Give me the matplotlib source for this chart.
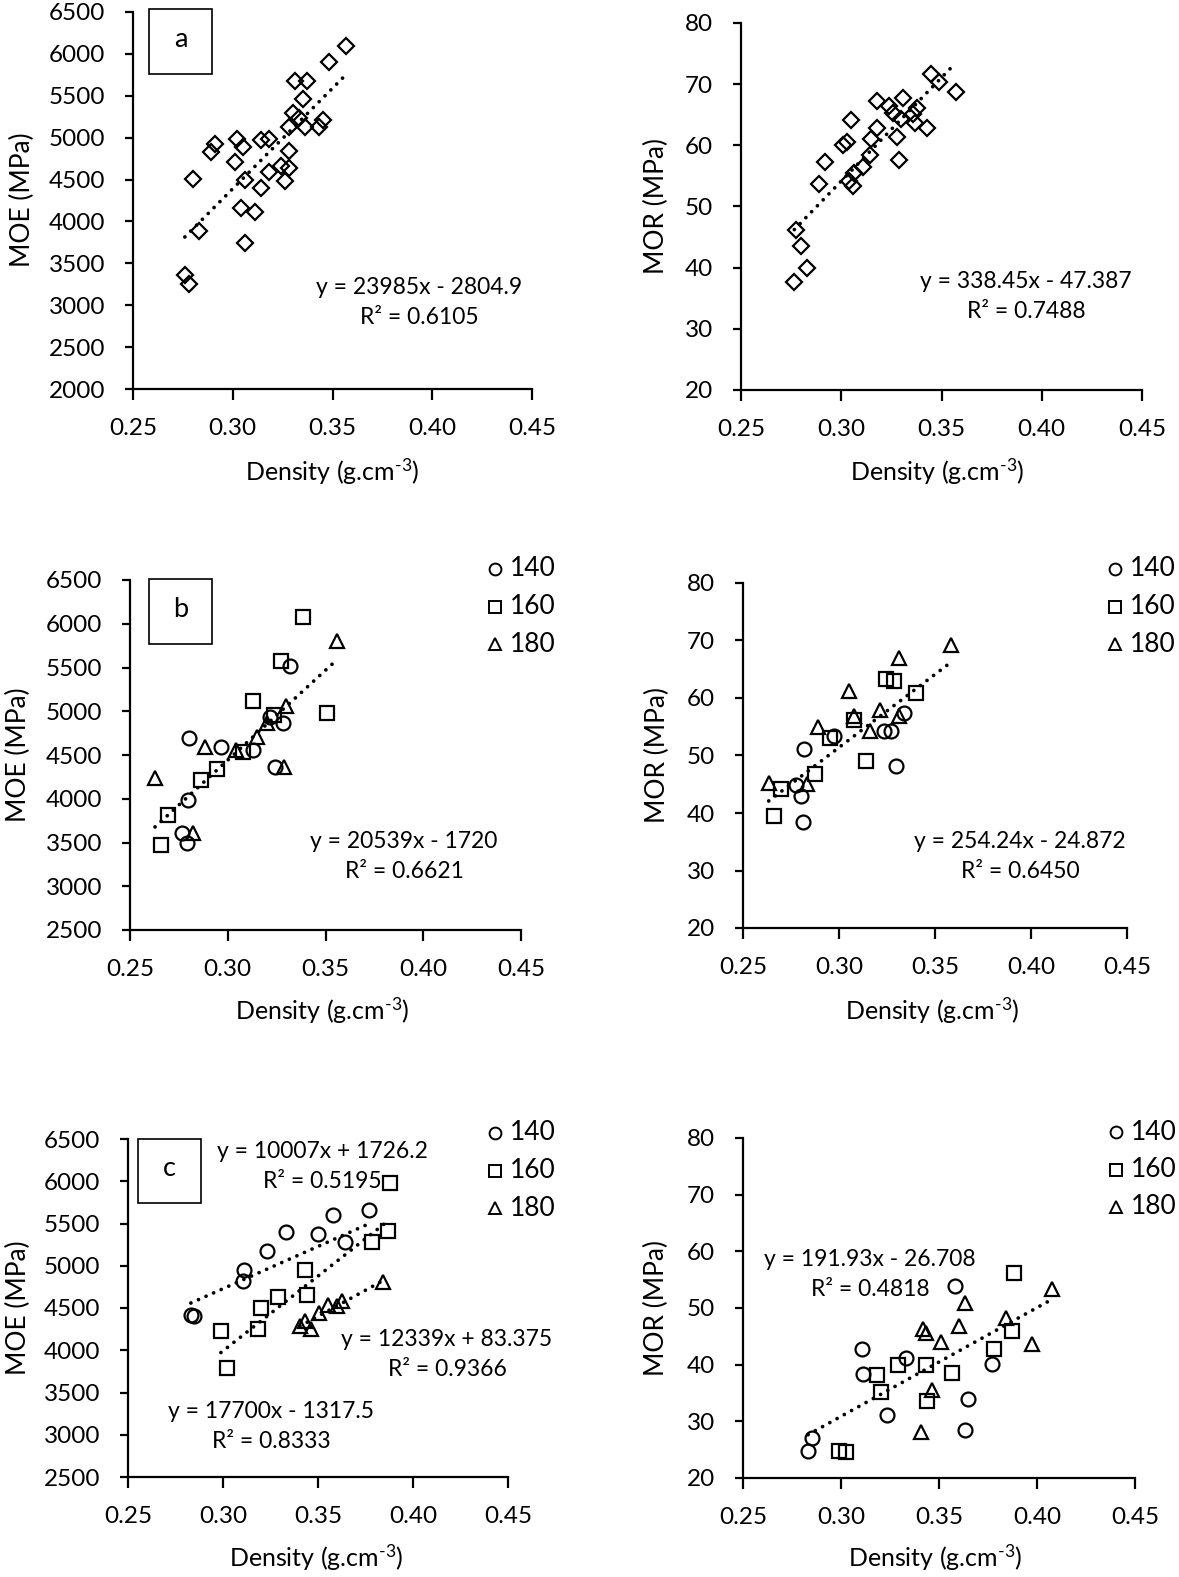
import matplotlib
matplotlib.use("Agg")
import matplotlib.pyplot as plt
from matplotlib.lines import Line2D
from matplotlib.patches import Rectangle
import numpy as np

plt.rcParams['font.family'] = ['Lato', 'DejaVu Sans']
plt.rcParams['mathtext.fontset'] = 'custom'
plt.rcParams['mathtext.rm'] = 'Lato'
plt.rcParams['mathtext.it'] = 'Lato'

# ---------------- DATA ----------------
groups = ['140', '160', '180']

# Panel a (all samples)
a_moe_x = [0.357, 0.348, 0.331, 0.337, 0.335, 0.330, 0.333, 0.328, 0.336, 0.343, 0.345,
           0.291, 0.289, 0.302, 0.305, 0.314, 0.318, 0.328, 0.301, 0.324, 0.328, 0.318,
           0.326, 0.306, 0.280, 0.314, 0.304, 0.311, 0.283, 0.306, 0.276, 0.278]
a_moe_y = [6090, 5905, 5680, 5680, 5465, 5290, 5230, 5130, 5130, 5130, 5210,
           4930, 4825, 4990, 4890, 4970, 4980, 4845, 4705, 4665, 4635, 4595,
           4485, 4490, 4505, 4395, 4155, 4110, 3880, 3740, 3365, 3255]
a_mor_x = [0.345, 0.349, 0.357, 0.318, 0.331, 0.324, 0.338, 0.326, 0.336, 0.330, 0.337,
           0.343, 0.305, 0.318, 0.315, 0.303, 0.301, 0.328, 0.3145, 0.329, 0.292, 0.311,
           0.3065, 0.304, 0.306, 0.289, 0.2776, 0.280, 0.283, 0.2766]
a_mor_y = [71.7, 70.3, 68.8, 67.2, 67.8, 66.4, 66.1, 65.3, 65.2, 64.3, 63.7,
           62.8, 64.1, 62.8, 61.0, 60.6, 60.0, 61.3, 58.5, 57.6, 57.2, 56.4,
           55.5, 54.1, 53.4, 53.6, 46.1, 43.6, 40.0, 37.6]

# Panel b (by group)
b_moe_x = {
    '140': [0.2804, 0.2964, 0.3131, 0.3282, 0.3319, 0.3242, 0.2799, 0.2765, 0.2794, 0.3215],
    '160': [0.3384, 0.3273, 0.3131, 0.3237, 0.3507, 0.3077, 0.2944, 0.2862, 0.2693, 0.2659],
    '180': [0.3561, 0.3299, 0.3203, 0.3148, 0.3043, 0.2884, 0.3288, 0.2628, 0.2824],
}
b_moe_y = {
    '140': [4699, 4596, 4558, 4870, 5518, 4367, 3987, 3613, 3492, 4935],
    '160': [6081, 5575, 5121, 4958, 4984, 4539, 4341, 4215, 3815, 3473],
    '180': [5807, 5061, 4863, 4703, 4558, 4596, 4360, 4234, 3613],
}
b_mor_x = {
    '140': [0.2816, 0.2776, 0.2802, 0.2811, 0.2976, 0.3233, 0.3271, 0.3337, 0.3299],
    '160': [0.3247, 0.3288, 0.3403, 0.3076, 0.2951, 0.3142, 0.2873, 0.2700, 0.2663],
    '180': [0.3583, 0.3314, 0.3050, 0.3076, 0.3215, 0.3311, 0.3163, 0.2889, 0.2833, 0.2634],
}
b_mor_y = {
    '140': [51.1, 44.9, 42.9, 38.4, 53.4, 54.3, 54.3, 57.4, 48.2],
    '160': [63.3, 62.9, 60.9, 56.2, 53.0, 49.0, 46.8, 44.2, 39.4],
    '180': [69.3, 67.0, 61.2, 56.8, 57.9, 56.8, 54.2, 55.0, 45.0, 45.2],
}

# Panel c (by group)
c_moe_x = {
    '140': [0.377, 0.358, 0.3332, 0.3502, 0.3642, 0.323, 0.3111, 0.3104, 0.2831, 0.285],
    '160': [0.3878, 0.387, 0.3782, 0.3432, 0.344, 0.3288, 0.320, 0.3183, 0.2989, 0.302],
    '180': [0.384, 0.3628, 0.3602, 0.3554, 0.3505, 0.3432, 0.3405, 0.3462],
}
c_moe_y = {
    '140': [5664, 5597, 5395, 5376, 5281, 5171, 4954, 4823, 4421, 4409],
    '160': [5979, 5407, 5277, 4954, 4650, 4630, 4500, 4255, 4224, 3790],
    '180': [4804, 4579, 4527, 4531, 4441, 4342, 4283, 4251],
}
c_mor_x = {
    '140': [0.3581, 0.3108, 0.3113, 0.3334, 0.3235, 0.3771, 0.3646, 0.3632, 0.2852, 0.2832],
    '160': [0.3882, 0.387, 0.378, 0.3564, 0.3436, 0.3291, 0.3186, 0.3203, 0.3441, 0.299, 0.3024],
    '180': [0.4078, 0.3632, 0.3841, 0.3603, 0.3416, 0.3436, 0.3508, 0.3976, 0.3465, 0.3407],
}
c_mor_y = {
    '140': [53.8, 42.8, 38.4, 41.1, 31.2, 40.1, 33.9, 28.5, 27.1, 24.7],
    '160': [56.1, 46.0, 42.8, 38.6, 39.9, 40.0, 38.2, 35.1, 33.6, 24.7, 24.6],
    '180': [53.4, 50.9, 48.2, 46.9, 46.3, 45.6, 44.0, 43.6, 35.6, 28.2],
}

# Trendline coefficients (slope, intercept, R2)
fit_a_moe = (23985, -2804.9, 0.6105)
fit_a_mor = (338.45, -47.387, 0.7488)
fit_b_moe = (20539, -1720, 0.6621)
fit_b_mor = (254.24, -24.872, 0.6450)
fit_c_moe = {'140': (10007, 1726.2, 0.5195), '160': (17700, -1317.5, 0.8333),
             '180': (12339, 83.375, 0.9366)}
fit_c_mor = (191.93, -26.708, 0.4818)

moe_ticks_a = [2000, 2500, 3000, 3500, 4000, 4500, 5000, 5500, 6000, 6500]
moe_ticks_bc = [2500, 3000, 3500, 4000, 4500, 5000, 5500, 6000, 6500]
mor_ticks = [20, 30, 40, 50, 60, 70, 80]
x_ticks = [0.25, 0.30, 0.35, 0.40, 0.45]

# ---------------- STYLE ----------------
W, H = 1179, 1577
FS = 17.5      # tick labels
FS_EQ = 16.5   # equations
FS_XL = 18     # x label
FS_YL = 19     # y label
markers = {'140': 'o', '160': 's', '180': '^'}
msizes = {'140': 10, '160': 10, '180': 10.5}

fig = plt.figure(figsize=(W / 100, H / 100), dpi=100)


def fx(x):
    return x / W


def fy(y):
    return 1 - y / H


def add_ax(l, r, t, b):
    return fig.add_axes([fx(l), fy(b), (r - l) / W, (b - t) / H])


def style(ax, yticks):
    ax.set_xlim(0.25, 0.45)
    ax.set_ylim(yticks[0], yticks[-1])
    ax.set_xticks(x_ticks)
    ax.set_xticklabels([f"{t:.2f}" for t in x_ticks])
    ax.set_yticks(yticks)
    ax.set_yticklabels([str(t) for t in yticks])
    for s in ['top', 'right']:
        ax.spines[s].set_visible(False)
    for s in ['left', 'bottom']:
        ax.spines[s].set_linewidth(1.6)
    ax.tick_params(axis='y', direction='out', length=6, width=1.6, pad=14, labelsize=FS)
    ax.tick_params(axis='x', direction='out', length=8, width=1.6, pad=13, labelsize=FS)
    ax.patch.set_alpha(0)


def trend(ax, fit, xs):
    xx = np.array([min(xs), max(xs)])
    ax.plot(xx, fit[0] * xx + fit[1], color='black', lw=2.7,
            linestyle=(0, (0.01, 2.2)), dash_capstyle='round', zorder=5)


def scatter(ax, x, y, g):
    ax.plot(x, y, linestyle='none', marker=markers[g], ms=msizes[g], mfc='none',
            mec='black', mew=1.6, zorder=3)


def eq_text(x, y, fit):
    slope, icpt, r2 = fit
    sign = '-' if icpt < 0 else '+'
    ic_s = f"{abs(icpt):g}"
    fig.text(fx(x), fy(y), f"y = {slope:g}x {sign} {ic_s}", ha='center', va='center', fontsize=FS_EQ)
    fig.text(fx(x), fy(y + 30), f"R² = {r2:.4f}", ha='center', va='center', fontsize=FS_EQ)


def panel_box(l, t, r, b, label):
    fig.patches.append(Rectangle((fx(l), fy(b)), (r - l) / W, (b - t) / H, transform=fig.transFigure,
                                 fill=False, edgecolor='black', lw=1.2))
    fig.text(fx((l + r) / 2), fy((t + b) / 2 - 2), label, ha='center', va='center', fontsize=FS + 2)


def legend(x, y):
    for i, g in enumerate(groups):
        yy = y + i * 37.5
        fig.add_artist(Line2D([fx(x)], [fy(yy)], marker=markers[g], ms=8.5, mfc='none',
                              mec='black', mew=1.4, linestyle='none', transform=fig.transFigure))
        fig.text(fx(x + 15), fy(yy), g, ha='left', va='center', fontsize=FS + 1.5)


xlabel = 'Density (g.cm$^{\\text{-}3}$)'


def xlab(x, y):
    fig.text(fx(x), fy(y), xlabel, ha='center', va='center', fontsize=FS_XL)


def ylab(x, y, s):
    fig.text(fx(x), fy(y), s, rotation=90, ha='center', va='center', fontsize=FS_YL)


# ---------------- Row a ----------------
ax = add_ax(133, 532, 12, 389)
style(ax, moe_ticks_a)
ax.plot(a_moe_x, a_moe_y, linestyle='none', marker='D', ms=7.8, mfc='none', mec='black', mew=1.6)
trend(ax, fit_a_moe, a_moe_x)
eq_text(419, 287, fit_a_moe)
panel_box(149, 9, 212, 74, 'a')
ylab(22, 200, 'MOE (MPa)')
xlab(332, 472)

ax = add_ax(741, 1142, 23, 390)
style(ax, mor_ticks)
ax.plot(a_mor_x, a_mor_y, linestyle='none', marker='D', ms=7.8, mfc='none', mec='black', mew=1.6)
trend(ax, fit_a_mor, a_mor_x)
eq_text(1026, 282, fit_a_mor)
ylab(656, 206, 'MOR (MPa)')
xlab(937, 472)

# ---------------- Row b ----------------
ax = add_ax(130, 521, 580, 930)
style(ax, moe_ticks_bc)
allx = []
for g in groups:
    scatter(ax, b_moe_x[g], b_moe_y[g], g)
    allx += b_moe_x[g]
trend(ax, fit_b_moe, allx)
eq_text(404, 842, fit_b_moe)
panel_box(149, 579, 212, 644, 'b')
legend(495, 569)
ylab(18, 755, 'MOE (MPa)')
xlab(322, 1011)

ax = add_ax(743, 1127, 583, 928)
style(ax, mor_ticks)
allx = []
for g in groups:
    scatter(ax, b_mor_x[g], b_mor_y[g], g)
    allx += b_mor_x[g]
trend(ax, fit_b_mor, allx)
eq_text(1020, 842, fit_b_mor)
legend(1115, 569)
ylab(657, 755, 'MOR (MPa)')
xlab(932, 1011)

# ---------------- Row c ----------------
ax = add_ax(128, 508, 1139, 1477)
style(ax, moe_ticks_bc)
for g in groups:
    scatter(ax, c_moe_x[g], c_moe_y[g], g)
    trend(ax, fit_c_moe[g], c_moe_x[g])
eq_text(322, 1152, fit_c_moe['140'])
eq_text(447, 1340, fit_c_moe['180'])
eq_text(271, 1412, fit_c_moe['160'])
panel_box(138, 1139, 201, 1203, 'c')
legend(495, 1133)
ylab(18, 1308, 'MOE (MPa)')
xlab(316, 1558)

ax = add_ax(743, 1135, 1138, 1478)
style(ax, mor_ticks)
allx = []
for g in groups:
    scatter(ax, c_mor_x[g], c_mor_y[g], g)
    allx += c_mor_x[g]
trend(ax, fit_c_mor, allx)
eq_text(870, 1259, fit_c_mor)
legend(1116, 1132)
ylab(656, 1308, 'MOR (MPa)')
xlab(935, 1558)

fig.savefig('out.png', dpi=100)
